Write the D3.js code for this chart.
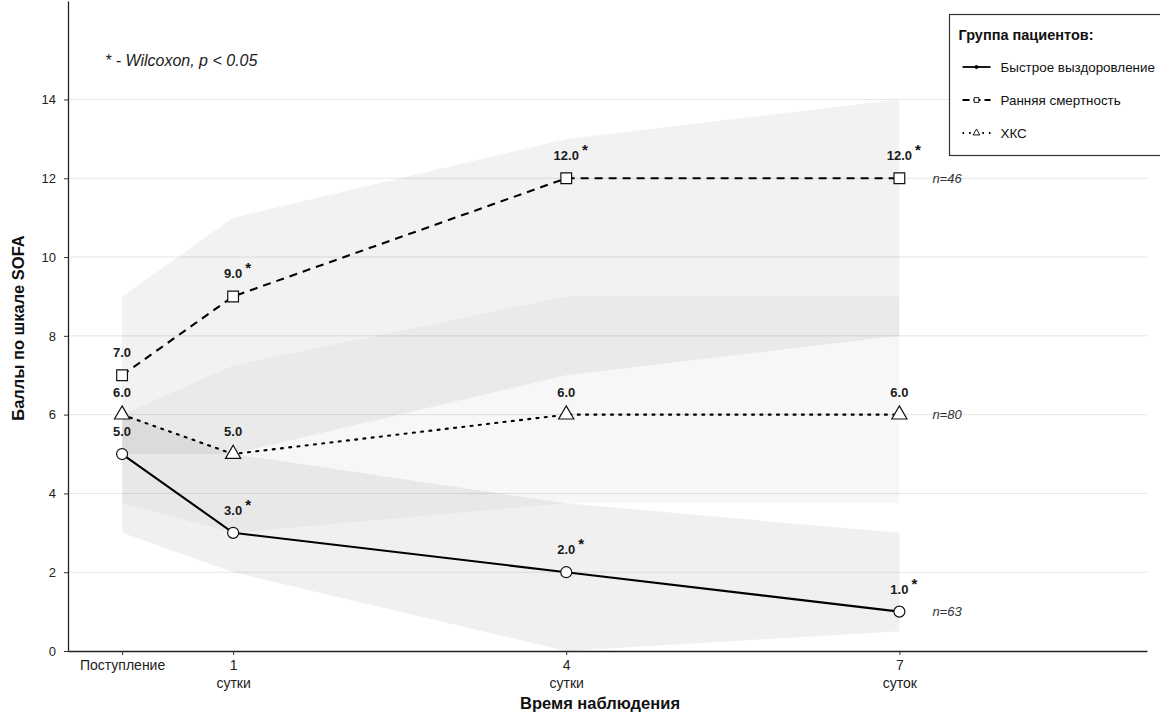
<!DOCTYPE html>
<html>
<head>
<meta charset="utf-8">
<script src="https://cdn.jsdelivr.net/npm/d3@7"></script>
<style>
  body { margin: 0; background: #fff; }
  svg { display: block; font-family: "Liberation Sans", Arial, sans-serif; }
</style>
</head>
<body>
<svg id="chart" width="1160" height="714"></svg>
<script>
// Observation days and their axis labels
const days = [0, 1, 4, 7];
const dayLabels = [["Поступление"], ["1", "сутки"], ["4", "сутки"], ["7", "суток"]];
const yTicks = [0, 2, 4, 6, 8, 10, 12, 14];

// SOFA medians and interquartile ranges per patient group
const recoveryMedian = [5, 3, 2, 1];
const recoveryLow = [3, 2, 0, 0.5];
const recoveryHigh = [6, 5, 3.75, 3];
const recoverySignif = [false, true, true, true];

const mortalityMedian = [7, 9, 12, 12];
const mortalityLow = [5, 5, 7, 8];
const mortalityHigh = [9, 11, 13, 14];
const mortalitySignif = [false, true, true, true];

const chsMedian = [6, 5, 6, 6];
const chsLow = [3.75, 3, 3.75, 3.75];
const chsHigh = [6, 7.25, 9, 9];
const chsSignif = [false, false, false, false];

const groupNames = ["Быстрое выздоровление", "Ранняя смертность", "ХКС"];
const groupN = [63, 46, 80];

const groups = [
  { name: groupNames[0], med: recoveryMedian, lo: recoveryLow, hi: recoveryHigh, sig: recoverySignif, n: groupN[0],
    dash: null, shape: "circle", band: 0.06 },
  { name: groupNames[1], med: mortalityMedian, lo: mortalityLow, hi: mortalityHigh, sig: mortalitySignif, n: groupN[1],
    dash: "8,6", shape: "square", band: 0.05 },
  { name: groupNames[2], med: chsMedian, lo: chsLow, hi: chsHigh, sig: chsSignif, n: groupN[2],
    dash: "2,6.3", shape: "triangle", band: 0.032 }
];

const svg = d3.select("#chart");
const x = d3.scaleLinear().domain([-0.487, 9.23]).range([68, 1147]);
const y = d3.scaleLinear().domain([0, 16.5]).range([651, 1]);

// horizontal grid
svg.append("g").selectAll("line").data(yTicks.filter(t => t > 0)).join("line")
  .attr("x1", x.range()[0]).attr("x2", x.range()[1])
  .attr("y1", d => y(d)).attr("y2", d => y(d))
  .attr("stroke", "#e6e6e6").attr("stroke-width", 1);

// interquartile ribbons
const area = d3.area()
  .x((d, i) => x(days[i]))
  .y0(d => y(d[0])).y1(d => y(d[1]));
groups.forEach(g => {
  svg.append("path")
    .datum(g.lo.map((v, i) => [v, g.hi[i]]))
    .attr("d", area)
    .attr("fill", "#000").attr("fill-opacity", g.band);
});

// median lines
const line = d3.line().x((d, i) => x(days[i])).y(d => y(d));
groups.forEach(g => {
  svg.append("path").datum(g.med).attr("d", line)
    .attr("fill", "none").attr("stroke", "#000").attr("stroke-width", 2.1)
    .attr("stroke-dasharray", g.dash)
    .attr("stroke-linecap", g.dash === "2,6.3" ? "round" : "butt");
});

// point markers
const symbolFor = { circle: d3.symbolCircle, square: d3.symbolSquare, triangle: d3.symbolTriangle };
const sizeFor = { circle: 95, square: 115, triangle: 100 };
groups.forEach(g => {
  svg.append("g").selectAll("path").data(g.med).join("path")
    .attr("transform", (d, i) => `translate(${x(days[i])},${y(d)})`)
    .attr("d", d3.symbol(symbolFor[g.shape], sizeFor[g.shape]))
    .attr("fill", "#fff").attr("stroke", "#111").attr("stroke-width", 1.2);
});

// value labels with significance marks
groups.forEach(g => {
  g.med.forEach((v, i) => {
    const lx = x(days[i]), ly = y(v) - 18;
    const t = svg.append("text").attr("x", lx).attr("y", ly)
      .attr("text-anchor", "middle").attr("font-size", 13).attr("font-weight", "bold")
      .attr("fill", "#1b1b1b").text(v.toFixed(1));
    if (g.sig[i]) {
      const w = t.node().getComputedTextLength();
      svg.append("text").attr("x", lx + w / 2 + 3).attr("y", ly - 5)
        .attr("font-size", 15).attr("font-weight", "bold").attr("fill", "#111").text("*");
    }
  });
  const last = g.med.length - 1;
  svg.append("text").attr("x", x(days[last]) + 33).attr("y", y(g.med[last]) + 4.5)
    .attr("font-size", 13).attr("font-style", "italic").attr("fill", "#333").text("n=" + g.n);
});

// y axis
const yAxis = svg.append("g").attr("transform", `translate(${x.range()[0]},0)`)
  .call(d3.axisLeft(y).tickValues(yTicks).tickSize(4).tickSizeOuter(0).tickPadding(8));
yAxis.select(".domain").attr("stroke", "#222").attr("stroke-width", 1.3);
yAxis.selectAll(".tick line").attr("stroke", "#333");
yAxis.selectAll(".tick text").attr("font-size", 13).attr("fill", "#222")
  .attr("font-family", "Liberation Sans, Arial, sans-serif");

// x axis
const xAxis = svg.append("g").attr("transform", `translate(0,${y(0)})`)
  .call(d3.axisBottom(x).tickValues(days).tickSize(4).tickSizeOuter(0).tickFormat(""));
xAxis.select(".domain").attr("stroke", "#222").attr("stroke-width", 1.3);
xAxis.selectAll(".tick line").attr("stroke", "#333");
xAxis.selectAll(".tick").each(function (d, i) {
  const t = d3.select(this).append("text").attr("fill", "#222").attr("font-size", 14)
    .attr("text-anchor", "middle").attr("font-family", "Liberation Sans, Arial, sans-serif");
  dayLabels[i].forEach((s, k) => {
    t.append("tspan").attr("x", 0).attr("y", 19 + k * 18).text(s);
  });
});

// axis titles
svg.append("text").attr("x", 600).attr("y", 709).attr("text-anchor", "middle")
  .attr("font-size", 16.5).attr("font-weight", "bold").attr("fill", "#111").text("Время наблюдения");
svg.append("text").attr("transform", "translate(24,328) rotate(-90)").attr("text-anchor", "middle")
  .attr("font-size", 16.5).attr("font-weight", "bold").attr("fill", "#111").text("Баллы по шкале SOFA");

// significance note
svg.append("text").attr("x", 105).attr("y", 66).attr("font-size", 16).attr("font-style", "italic")
  .attr("fill", "#1b1b1b").text("* - Wilcoxon, p < 0.05");

// legend
const lg = svg.append("g").attr("transform", "translate(949.5,14.5)");
lg.append("rect").attr("width", 240).attr("height", 141)
  .attr("fill", "#fff").attr("stroke", "#333").attr("stroke-width", 1.2);
lg.append("text").attr("x", 9).attr("y", 25).attr("font-size", 14.5).attr("font-weight", "bold")
  .attr("fill", "#111").text("Группа пациентов:");
const keySize = { circle: 8, square: 22, triangle: 20 };
groups.forEach((g, i) => {
  const cy = 52.5 + i * 33;
  lg.append("line").attr("x1", 13).attr("x2", 41).attr("y1", cy).attr("y2", cy)
    .attr("stroke", "#000").attr("stroke-width", 1.8)
    .attr("stroke-dasharray", g.dash === null ? null : (g.dash === "8,6" ? "7,4" : "1.6,5"));
  lg.append("path").attr("transform", `translate(27,${cy})`)
    .attr("d", d3.symbol(symbolFor[g.shape], keySize[g.shape]))
    .attr("fill", g.shape === "circle" ? "#000" : "#fff").attr("stroke", "#000").attr("stroke-width", 0.9);
  lg.append("text").attr("x", 51).attr("y", cy + 5).attr("font-size", 13.4).attr("fill", "#111").text(g.name);
});
</script>
</body>
</html>
